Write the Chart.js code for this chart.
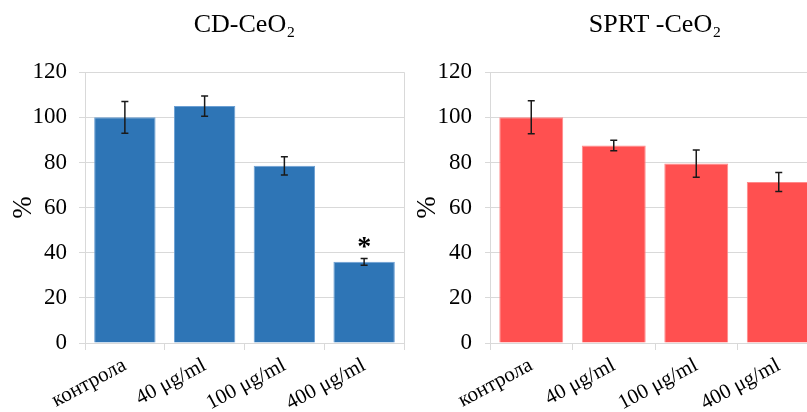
<!DOCTYPE html>
<html>
<head>
<meta charset="utf-8">
<script src="https://cdn.jsdelivr.net/npm/chart.js@4"></script>
<style>
  html, body { margin: 0; padding: 0; background: #fff; overflow: hidden; }
  .box { position: absolute; top: 0; height: 412px; }
  #boxLeft { left: 0; width: 410px; }
  #boxRight { left: 400px; width: 430px; }
</style>
</head>
<body>
<div class="box" id="boxLeft"><canvas id="chartCD" width="410" height="412"></canvas></div>
<div class="box" id="boxRight"><canvas id="chartSPRT" width="430" height="412"></canvas></div>
<script>
// data
const categories = ['контрола', '40 μg/ml', '100 μg/ml', '400 μg/ml'];
const cdValues = [100, 105, 78.5, 36];
const cdErrors = [7, 4.5, 4, 1.5];
const cdMarks = ['', '', '', '*'];
const sprtValues = [100, 87.5, 79.5, 71.3];
const sprtErrors = [7.3, 2.3, 6, 4.2];
const sprtMarks = ['', '', '', ''];
const yTicks = [0, 20, 40, 60, 80, 100, 120];

const GRID = '#d9d9d9';
const SERIF = "'Liberation Serif', 'Times New Roman', serif";

// error bars + significance stars
const errorBars = {
    id: 'errorBars',
    afterDatasetsDraw(chart) {
        const ctx = chart.ctx;
        const y = chart.scales.y;
        const ds = chart.data.datasets[0];
        const meta = chart.getDatasetMeta(0);
        ctx.save();
        ctx.strokeStyle = '#1a1a1a';
        ctx.lineWidth = 1.5;
        meta.data.forEach((bar, i) => {
            const v = ds.data[i], e = ds.errors[i];
            const top = y.getPixelForValue(v + e);
            const bot = y.getPixelForValue(v - e);
            ctx.beginPath();
            ctx.moveTo(bar.x, top); ctx.lineTo(bar.x, bot);
            ctx.moveTo(bar.x - 3.5, top); ctx.lineTo(bar.x + 3.5, top);
            ctx.moveTo(bar.x - 3.5, bot); ctx.lineTo(bar.x + 3.5, bot);
            ctx.stroke();
            if (ds.marks[i]) {
                ctx.fillStyle = '#000';
                ctx.font = 'bold 28px ' + SERIF;
                ctx.textAlign = 'center';
                ctx.textBaseline = 'middle';
                ctx.fillText(ds.marks[i], bar.x, top - 11);
            }
        });
        ctx.restore();
    }
};

function makeChart(id, title, values, errors, marks, fill, edge, pad, axisW, tickLen, tickPad, barPct) {
    const ctx = document.getElementById(id).getContext('2d');
    return new Chart(ctx, {
        type: 'bar',
        data: {
            labels: categories,
            datasets: [{
                data: values,
                errors: errors,
                marks: marks,
                backgroundColor: fill,
                borderColor: edge,
                borderWidth: 1,
                barPercentage: barPct,
                categoryPercentage: 1
            }]
        },
        options: {
            responsive: false,
            animation: false,
            layout: { padding: { left: pad[0], right: pad[1], top: 4, bottom: 0 } },
            plugins: {
                legend: { display: false },
                tooltip: { enabled: false },
                title: {
                    display: true,
                    text: title,
                    fullSize: false,
                    color: '#000',
                    font: { family: SERIF, size: 26, weight: 'normal' },
                    padding: { top: 6, bottom: 31 }
                }
            },
            scales: {
                x: {
                    offset: true,
                    afterFit: axis => { axis.height = 69; },
                    grid: {
                        offset: true,
                        drawOnChartArea: true,
                        color: c => (c.index > 0 && c.index < categories.length) ? 'transparent' : GRID,
                        tickColor: GRID,
                        tickLength: 7
                    },
                    border: { color: GRID },
                    ticks: {
                        color: '#000',
                        minRotation: 28,
                        maxRotation: 28,
                        padding: 3,
                        font: { family: SERIF, size: 21 }
                    }
                },
                y: {
                    min: 0,
                    max: 120,
                    afterBuildTicks: axis => { axis.ticks = yTicks.map(v => ({ value: v })); },
                    afterFit: axis => { axis.width = axisW; },
                    grid: { color: GRID, drawTicks: true, tickLength: tickLen, tickColor: GRID },
                    border: { display: false },
                    title: {
                        display: true,
                        text: '%',
                        color: '#000',
                        font: { family: SERIF, size: 27 },
                        padding: { top: 0, bottom: 0 }
                    },
                    ticks: {
                        color: '#000',
                        padding: tickPad,
                        font: { family: SERIF, size: 23 }
                    }
                }
            }
        },
        plugins: [errorBars]
    });
}

makeChart('chartCD', 'CD-CeO₂', cdValues, cdErrors, cdMarks, '#2e75b6', '#6b9fd3', [8, 6], 77, 6, 12, 0.77);
makeChart('chartSPRT', 'SPRT -CeO₂', sprtValues, sprtErrors, sprtMarks, '#ff5050', '#ff8a8a', [12, 10], 78, 5, 13, 0.775);
</script>
</body>
</html>
